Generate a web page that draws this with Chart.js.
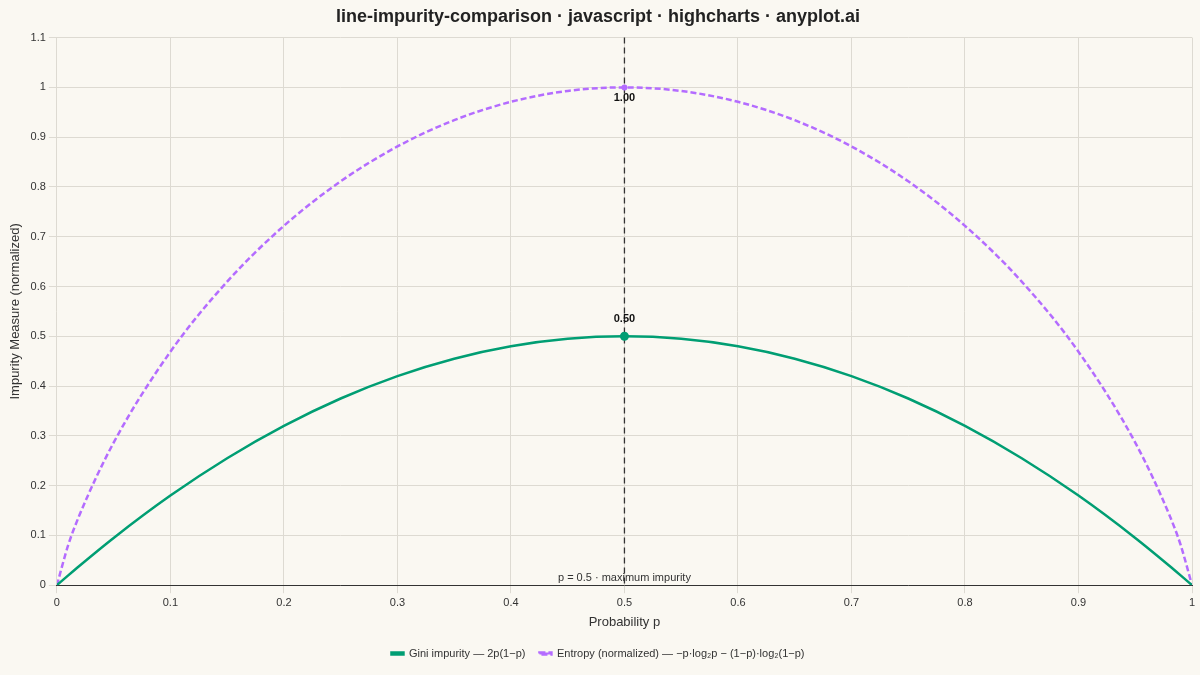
<!DOCTYPE html>
<html><head><meta charset="utf-8">
<script src="https://cdn.jsdelivr.net/npm/chart.js@4/dist/chart.umd.min.js"></script>
<style>html,body{margin:0;background:#faf8f2;}#w{width:1200px;height:675px;}</style>
</head><body><div id="w"><canvas id="c"></canvas></div>
<script>
const pValues = [0,0.01,0.02,0.05,0.1,0.15,0.2,0.25,0.3,0.35,0.4,0.45,0.5,0.55,0.6,0.65,0.7,0.75,0.8,0.85,0.9,0.95,0.98,0.99,1];
const giniValues = [0,0.0198,0.0392,0.095,0.18,0.255,0.32,0.375,0.42,0.455,0.48,0.495,0.5,0.495,0.48,0.455,0.42,0.375,0.32,0.255,0.18,0.095,0.0392,0.0198,0];
const entropyValues = [0,0.0808,0.1414,0.2864,0.469,0.6098,0.7219,0.8113,0.8813,0.9341,0.971,0.9928,1,0.9928,0.971,0.9341,0.8813,0.8113,0.7219,0.6098,0.469,0.2864,0.1414,0.0808,0];
const markerP = 0.5, giniMax = 0.5, entropyMax = 1.0;
const F = "'Liberation Sans', Arial, sans-serif";
const pts = v => pValues.map((p,i)=>({x:p,y:v[i]}));
const plug = {id:'ann', afterDatasetsDraw(ch){
  const c=ch.ctx, xs=ch.scales.x, ys=ch.scales.y, x=xs.getPixelForValue(markerP);
  c.save();
  c.strokeStyle='#333'; c.lineWidth=1.3; c.setLineDash([6,4]);
  c.beginPath(); c.moveTo(x,ys.top); c.lineTo(x,ys.bottom); c.stroke(); c.setLineDash([]);
  c.fillStyle='#333'; c.font='11px '+F; c.textAlign='center'; c.fillText('p = 0.5 · maximum impurity', x, ys.bottom-7);
  c.fillStyle='#009e73'; c.beginPath(); c.arc(x,ys.getPixelForValue(giniMax),4.5,0,7); c.fill();
  c.fillStyle='#b46cff'; c.beginPath(); c.arc(x,ys.getPixelForValue(entropyMax),3,0,7); c.fill();
  c.fillStyle='#111'; c.font='bold 11px '+F;
  c.fillText('0.50', x, ys.getPixelForValue(giniMax)-17);
  c.fillText('1.00', x, ys.getPixelForValue(entropyMax)+11);
  c.restore();
}};
new Chart(document.getElementById('c'),{type:'line',
 data:{datasets:[
  {label:'Gini impurity — 2p(1−p)',data:pts(giniValues),borderColor:'#009e73',backgroundColor:'#009e73',borderWidth:2.5,pointRadius:0,cubicInterpolationMode:'monotone'},
  {label:'Entropy (normalized) — −p·log₂p − (1−p)·log₂(1−p)',data:pts(entropyValues),borderColor:'#b46cff',backgroundColor:'#b46cff',borderWidth:2.5,borderDash:[6,3],pointRadius:0,cubicInterpolationMode:'monotone'}]},
 options:{responsive:true,maintainAspectRatio:false,animation:false,
  layout:{padding:{left:4,right:8,top:0,bottom:6}},
  plugins:{title:{display:true,text:'line-impurity-comparison · javascript · highcharts · anyplot.ai',font:{family:F,size:18,weight:'bold'},color:'#222',padding:{top:6,bottom:10}},
   legend:{position:'bottom',labels:{font:{family:F,size:11},color:'#333',boxWidth:12,boxHeight:2,padding:14}},tooltip:{enabled:false}},
  scales:{
   x:{type:'linear',min:0,max:1,ticks:{stepSize:0.1,font:{family:F,size:11},color:'#333',callback:v=>+v.toFixed(1)},
      grid:{color:'#dddad2'},border:{color:'#333'},title:{display:true,text:'Probability p',font:{family:F,size:13},color:'#333',padding:{top:2}}},
   y:{min:0,max:1.1,ticks:{stepSize:0.1,font:{family:F,size:11},color:'#333',callback:v=>+v.toFixed(1)},
      grid:{color:'#dddad2'},border:{display:false},title:{display:true,text:'Impurity Measure (normalized)',font:{family:F,size:13},color:'#333'}}}},
 plugins:[plug]});
</script></body></html>
